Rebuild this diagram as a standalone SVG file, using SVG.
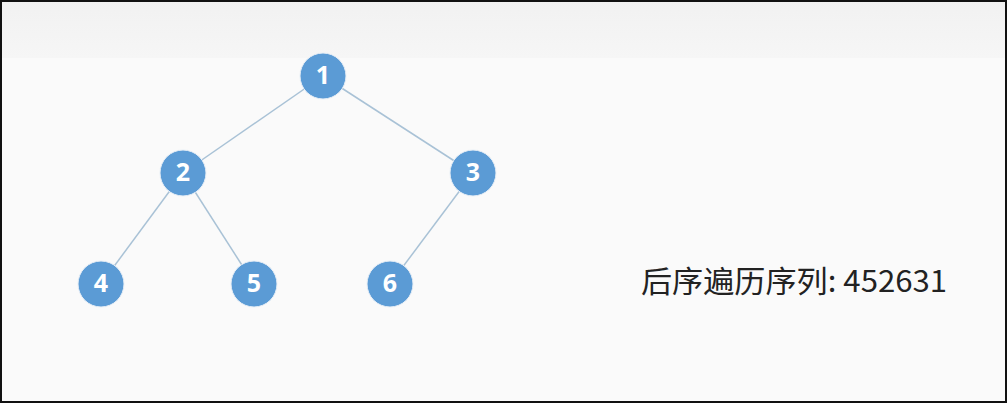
<svg xmlns="http://www.w3.org/2000/svg" width="1007" height="403" viewBox="0 0 1007 403">
<defs>
<linearGradient id="top" x1="0" y1="0" x2="0" y2="1">
<stop offset="0" stop-color="#f1f1f1"/>
<stop offset="1" stop-color="#f6f6f6"/>
</linearGradient>
<style>
.edge{stroke:#a9c2d6;stroke-width:1.5;fill:none}
.node circle{fill:#5b9bd5;stroke:#e8eff7;stroke-width:1}
.node text{fill:#ffffff;font-family:"Open Sans","Noto Sans",sans-serif;font-weight:bold;font-size:25px;text-anchor:middle;dominant-baseline:central}
.label{fill:#222222;font-family:"Noto Sans CJK SC","Noto Sans",sans-serif;font-size:30px}
</style>
</defs>
<rect x="0" y="0" width="1007" height="403" fill="#fafafa"/>
<rect x="0" y="0" width="1007" height="58" fill="url(#top)"/>
<rect x="1" y="1" width="1005" height="401" fill="none" stroke="#111" stroke-width="2"/>
<g id="connectors">
<line class="edge" x1="323" y1="76" x2="183" y2="173"/>
<line class="edge" x1="323" y1="76" x2="473" y2="173"/>
<line class="edge" x1="183" y1="173" x2="101" y2="284"/>
<line class="edge" x1="183" y1="173" x2="254" y2="284"/>
<line class="edge" x1="473" y1="173" x2="390" y2="284"/>
</g>
<g id="n1" class="node"><circle cx="323" cy="76" r="23"/><text x="323" y="74">1</text></g>
<g id="n2" class="node"><circle cx="183" cy="173" r="23"/><text x="183" y="171">2</text></g>
<g id="n3" class="node"><circle cx="473" cy="173" r="23"/><text x="473" y="171">3</text></g>
<g id="n4" class="node"><circle cx="101" cy="284" r="23"/><text x="101" y="282">4</text></g>
<g id="n5" class="node"><circle cx="254" cy="284" r="23"/><text x="254" y="282">5</text></g>
<g id="n6" class="node"><circle cx="390" cy="284" r="23"/><text x="390" y="282">6</text></g>
<text id="caption" class="label" x="641" y="292" textLength="306" lengthAdjust="spacingAndGlyphs">后序遍历序列: 452631</text>
</svg>
